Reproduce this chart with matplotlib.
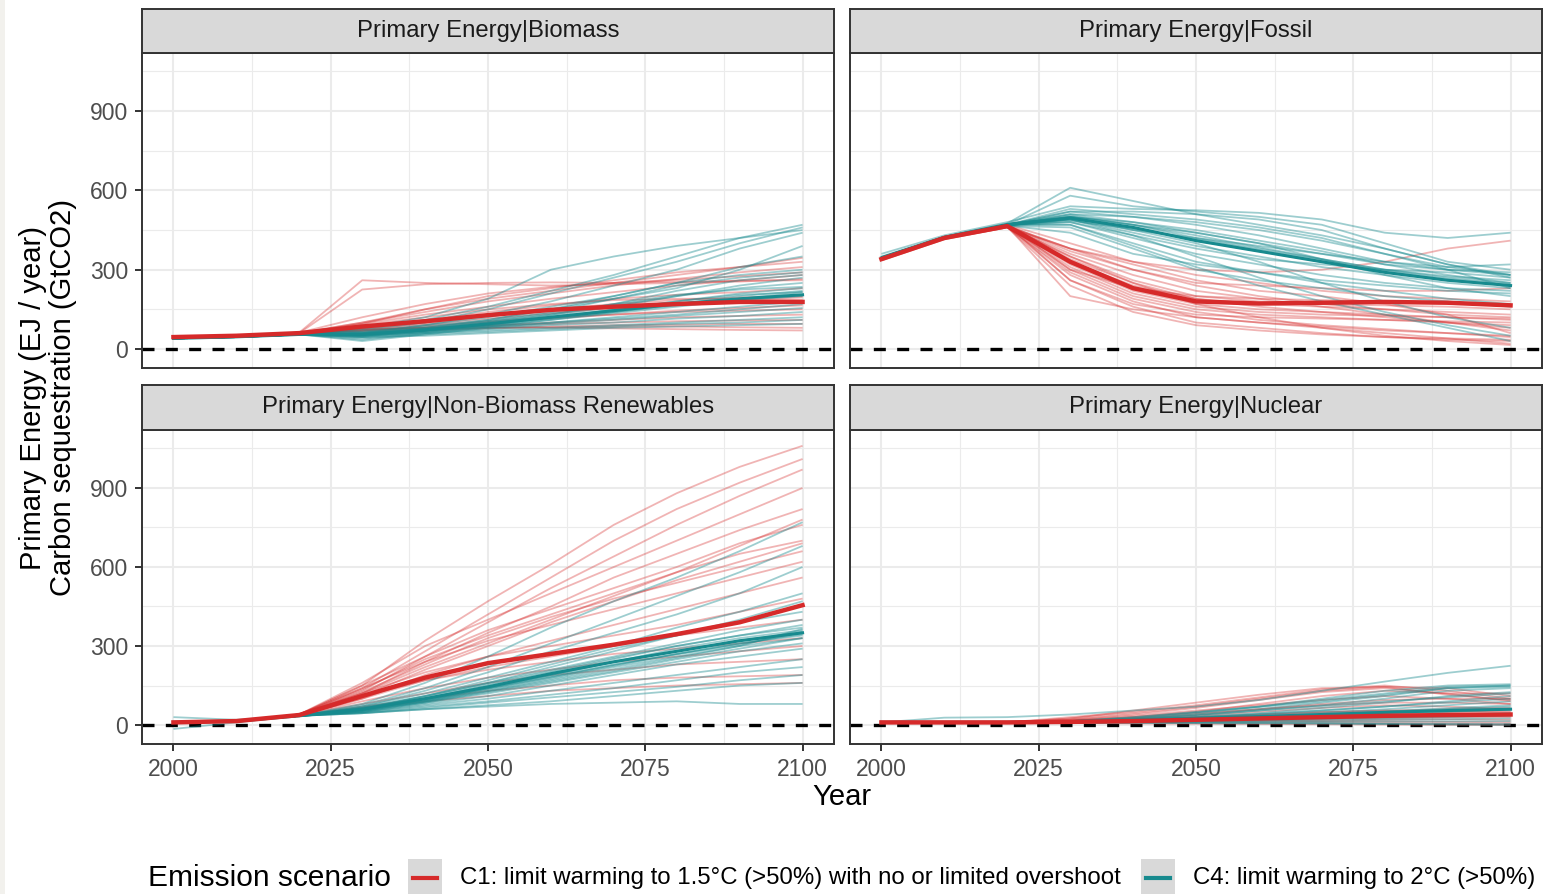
import matplotlib
matplotlib.use("Agg")
import matplotlib.pyplot as plt
from matplotlib.patches import Rectangle
from matplotlib.lines import Line2D
import numpy as np

plt.rcParams["font.family"] = ["Liberation Sans", "DejaVu Sans"]

years = [2000, 2010, 2020, 2030, 2040, 2050, 2060, 2070, 2080, 2090, 2100]

panel_titles = [
    "Primary Energy|Biomass",
    "Primary Energy|Fossil",
    "Primary Energy|Non-Biomass Renewables",
    "Primary Energy|Nuclear",
]

scenario_labels = [
    "C1: limit warming to 1.5°C (>50%) with no or limited overshoot",
    "C4: limit warming to 2°C (>50%)",
]

# ---- Biomass -------------------------------------------------------------
biomass_c1 = [
    [44, 50, 60, 225, 245, 250, 252, 250, 255, 258, 260],
    [44, 50, 62, 260, 250, 245, 240, 245, 250, 255, 265],
    [45, 51, 62, 120, 170, 210, 235, 250, 262, 275, 290],
    [45, 50, 60, 100, 140, 180, 210, 240, 265, 290, 310],
    [44, 50, 60, 95, 130, 160, 190, 215, 240, 260, 280],
    [45, 50, 59, 85, 110, 140, 165, 190, 205, 215, 230],
    [44, 49, 58, 80, 100, 125, 150, 170, 185, 195, 200],
    [45, 50, 60, 85, 105, 130, 150, 165, 175, 178, 180],
    [44, 50, 60, 78, 95, 115, 135, 155, 170, 185, 195],
    [45, 50, 61, 90, 120, 150, 170, 185, 190, 190, 185],
    [44, 49, 58, 70, 85, 100, 115, 130, 145, 155, 165],
    [45, 50, 60, 75, 90, 105, 120, 130, 140, 145, 150],
    [44, 50, 59, 70, 80, 90, 100, 110, 120, 125, 130],
    [45, 50, 60, 72, 80, 88, 95, 100, 105, 108, 110],
    [44, 49, 58, 65, 70, 78, 85, 90, 92, 95, 95],
    [45, 50, 60, 68, 75, 80, 82, 84, 85, 82, 80],
    [44, 50, 60, 75, 80, 82, 80, 78, 75, 72, 70],
    [45, 50, 61, 100, 150, 200, 230, 260, 290, 310, 330],
    [44, 50, 60, 95, 150, 190, 220, 250, 280, 310, 345],
]
biomass_c4 = [
    [40, 46, 56, 70, 100, 150, 210, 270, 330, 400, 460],
    [40, 46, 55, 75, 110, 160, 220, 280, 350, 420, 470],
    [41, 47, 56, 80, 120, 190, 300, 350, 390, 420, 450],
    [40, 45, 55, 60, 90, 130, 180, 240, 300, 380, 440],
    [40, 46, 55, 65, 85, 110, 150, 200, 250, 280, 300],
    [40, 45, 54, 60, 80, 105, 140, 190, 240, 270, 290],
    [40, 46, 56, 60, 75, 100, 130, 170, 220, 260, 280],
    [41, 46, 55, 55, 70, 95, 125, 160, 200, 230, 250],
    [40, 45, 54, 45, 65, 90, 120, 150, 180, 210, 230],
    [40, 46, 55, 50, 70, 90, 115, 140, 165, 190, 215],
    [40, 45, 55, 35, 60, 85, 110, 135, 160, 185, 200],
    [40, 46, 55, 30, 55, 80, 100, 120, 140, 160, 180],
    [40, 45, 56, 55, 70, 85, 100, 115, 130, 150, 170],
    [40, 45, 55, 50, 65, 80, 95, 110, 125, 140, 155],
    [40, 46, 55, 45, 60, 75, 90, 100, 115, 125, 140],
    [41, 45, 54, 50, 60, 70, 80, 90, 100, 110, 120],
    [40, 46, 55, 40, 55, 65, 75, 85, 95, 100, 110],
    [40, 45, 55, 45, 50, 60, 70, 80, 85, 90, 95],
    [40, 46, 56, 65, 90, 120, 160, 200, 250, 310, 350],
    [40, 45, 55, 60, 80, 110, 150, 190, 230, 300, 390],
    [40, 46, 55, 55, 75, 100, 130, 165, 200, 240, 270],
    [40, 45, 56, 50, 65, 85, 110, 140, 170, 200, 220],
    [40, 46, 55, 58, 78, 105, 135, 170, 205, 225, 235],
    [40, 45, 55, 52, 68, 92, 118, 148, 180, 205, 215],
]
biomass_c1_median = [45, 50, 60, 85, 105, 128, 148, 160, 170, 178, 178]
biomass_c4_median = [40, 46, 55, 55, 72, 95, 120, 145, 170, 190, 205]

# ---- Fossil --------------------------------------------------------------
fossil_c1 = [
    [335, 415, 460, 380, 300, 250, 240, 230, 220, 220, 230],
    [340, 420, 470, 400, 330, 280, 250, 220, 200, 190, 180],
    [345, 425, 465, 350, 260, 200, 180, 170, 165, 160, 150],
    [340, 420, 465, 300, 200, 150, 130, 120, 110, 100, 90],
    [338, 418, 462, 280, 180, 120, 100, 85, 70, 60, 50],
    [342, 422, 468, 260, 160, 100, 80, 60, 45, 35, 30],
    [340, 420, 465, 320, 220, 170, 150, 140, 130, 120, 110],
    [345, 425, 470, 340, 250, 190, 160, 140, 120, 100, 80],
    [340, 418, 460, 240, 140, 90, 70, 55, 45, 40, 35],
    [338, 420, 465, 200, 150, 120, 100, 80, 60, 40, 20],
    [342, 422, 466, 360, 280, 220, 190, 160, 130, 100, 70],
    [340, 420, 464, 310, 210, 160, 140, 130, 125, 120, 115],
    [336, 416, 460, 290, 190, 140, 110, 90, 75, 60, 45],
    [344, 424, 468, 370, 300, 240, 200, 170, 150, 130, 120],
    [340, 420, 465, 350, 250, 170, 120, 80, 50, 30, 15],
    [340, 420, 465, 380, 330, 300, 290, 300, 330, 380, 410],
    [342, 421, 467, 300, 230, 200, 190, 185, 180, 175, 170],
    [338, 419, 463, 260, 170, 130, 120, 115, 110, 105, 100],
    [340, 420, 465, 380, 320, 260, 220, 200, 170, 130, 60],
    [341, 421, 466, 330, 240, 190, 170, 160, 150, 140, 130],
]
fossil_c4 = [
    [350, 425, 475, 610, 560, 510, 470, 430, 380, 320, 280],
    [345, 420, 470, 580, 540, 520, 500, 470, 400, 330, 300],
    [360, 430, 480, 540, 530, 525, 515, 490, 440, 420, 440],
    [345, 422, 470, 520, 520, 510, 490, 450, 380, 320, 270],
    [340, 418, 468, 510, 500, 480, 450, 410, 360, 310, 280],
    [345, 424, 472, 500, 480, 450, 410, 370, 320, 280, 250],
    [345, 420, 470, 505, 470, 420, 380, 340, 300, 270, 250],
    [348, 425, 474, 495, 460, 410, 370, 330, 290, 260, 240],
    [342, 420, 468, 490, 440, 390, 350, 310, 280, 250, 230],
    [345, 422, 470, 480, 420, 360, 320, 280, 250, 230, 220],
    [345, 420, 470, 470, 400, 330, 290, 260, 240, 220, 210],
    [340, 418, 466, 460, 380, 300, 260, 230, 200, 180, 160],
    [346, 423, 471, 500, 450, 400, 330, 250, 180, 120, 80],
    [344, 421, 469, 490, 430, 350, 270, 200, 140, 90, 50],
    [345, 422, 470, 470, 390, 310, 240, 180, 130, 80, 30],
    [345, 420, 470, 520, 500, 470, 430, 380, 330, 300, 280],
    [347, 424, 472, 510, 480, 440, 400, 360, 320, 300, 290],
    [343, 420, 468, 480, 430, 380, 340, 320, 300, 290, 270],
    [345, 422, 470, 500, 470, 440, 400, 340, 280, 230, 200],
    [345, 422, 470, 530, 510, 490, 460, 420, 360, 300, 230],
    [341, 419, 467, 440, 360, 320, 290, 250, 220, 190, 170],
    [345, 421, 470, 490, 450, 420, 390, 360, 330, 310, 320],
    [344, 421, 469, 485, 455, 415, 375, 335, 295, 265, 245],
    [346, 423, 471, 500, 470, 430, 385, 340, 300, 275, 260],
]
fossil_c1_median = [340, 420, 465, 330, 230, 180, 172, 175, 178, 175, 165]
fossil_c4_median = [345, 422, 470, 495, 460, 410, 370, 330, 290, 260, 240]

# ---- Non-biomass renewables ---------------------------------------------
renew_c1 = [
    [10, 15, 40, 150, 320, 470, 610, 760, 880, 980, 1060],
    [10, 15, 40, 140, 280, 420, 560, 700, 820, 920, 1010],
    [10, 16, 38, 130, 260, 390, 520, 640, 760, 870, 970],
    [10, 15, 40, 160, 300, 400, 500, 600, 700, 800, 900],
    [10, 15, 38, 120, 240, 350, 450, 560, 650, 740, 820],
    [10, 15, 40, 135, 250, 340, 420, 500, 580, 680, 780],
    [10, 15, 38, 110, 210, 300, 390, 470, 550, 620, 690],
    [10, 16, 40, 140, 240, 320, 380, 440, 500, 560, 620],
    [10, 15, 38, 100, 190, 260, 320, 380, 440, 500, 560],
    [10, 15, 40, 120, 200, 260, 300, 340, 380, 430, 480],
    [10, 15, 38, 100, 170, 220, 260, 300, 340, 370, 400],
    [10, 15, 40, 110, 170, 210, 240, 270, 290, 310, 330],
    [10, 15, 38, 90, 140, 180, 210, 240, 260, 280, 300],
    [10, 15, 38, 80, 120, 160, 190, 210, 230, 240, 250],
    [10, 15, 36, 70, 100, 130, 150, 170, 180, 185, 190],
    [10, 15, 36, 65, 90, 110, 130, 140, 150, 155, 160],
    [10, 15, 40, 120, 220, 310, 400, 490, 580, 650, 700],
    [10, 16, 40, 150, 260, 360, 440, 520, 600, 690, 760],
    [10, 15, 39, 125, 230, 330, 410, 480, 540, 600, 660],
]
renew_c4 = [
    [10, 15, 35, 80, 160, 260, 370, 470, 560, 660, 770],
    [10, 15, 35, 75, 140, 220, 310, 400, 490, 580, 680],
    [10, 15, 35, 70, 130, 200, 280, 350, 420, 500, 600],
    [10, 15, 35, 70, 120, 180, 240, 300, 370, 430, 500],
    [10, 15, 35, 65, 110, 160, 220, 280, 340, 400, 470],
    [10, 15, 35, 65, 110, 160, 210, 260, 310, 360, 400],
    [10, 15, 35, 60, 100, 150, 200, 250, 300, 340, 370],
    [10, 15, 35, 60, 100, 145, 190, 240, 280, 320, 355],
    [10, 15, 35, 58, 95, 140, 185, 230, 270, 310, 345],
    [10, 15, 35, 55, 90, 130, 175, 220, 260, 300, 330],
    [10, 15, 35, 55, 85, 120, 160, 200, 240, 280, 310],
    [10, 15, 35, 50, 80, 110, 150, 190, 230, 260, 290],
    [10, 15, 35, 50, 75, 100, 130, 160, 190, 220, 250],
    [10, 15, 35, 48, 70, 90, 115, 140, 170, 200, 220],
    [10, 15, 35, 45, 65, 85, 105, 125, 145, 170, 190],
    [10, 15, 35, 45, 60, 75, 90, 110, 130, 150, 160],
    [10, 15, 35, 45, 60, 70, 80, 85, 90, 80, 80],
    [-15, 10, 35, 60, 95, 140, 190, 240, 290, 330, 360],
    [30, 20, 35, 65, 105, 155, 205, 255, 300, 340, 380],
    [10, 15, 35, 55, 90, 135, 180, 225, 270, 310, 340],
    [10, 15, 35, 60, 110, 170, 230, 290, 340, 390, 430],
    [10, 15, 35, 50, 85, 125, 165, 205, 250, 290, 330],
    [10, 15, 35, 57, 92, 138, 182, 228, 268, 305, 352],
    [10, 15, 35, 53, 88, 128, 170, 212, 255, 300, 365],
]
renew_c1_median = [10, 15, 38, 110, 180, 235, 270, 305, 345, 390, 455]
renew_c4_median = [10, 15, 35, 60, 100, 145, 195, 240, 280, 320, 350]

# ---- Nuclear -------------------------------------------------------------
nuclear_c1 = [
    [10, 10, 10, 25, 45, 70, 100, 130, 145, 140, 110],
    [10, 10, 10, 30, 50, 75, 105, 135, 150, 130, 100],
    [10, 10, 10, 20, 40, 65, 95, 125, 140, 120, 90],
    [10, 10, 10, 25, 55, 85, 115, 140, 145, 115, 95],
    [10, 10, 10, 15, 30, 50, 80, 110, 130, 120, 120],
    [10, 10, 10, 15, 25, 40, 60, 80, 95, 100, 100],
    [10, 10, 10, 15, 25, 35, 50, 65, 75, 70, 60],
    [10, 10, 10, 12, 20, 30, 40, 50, 55, 50, 50],
    [10, 10, 10, 12, 18, 25, 30, 35, 40, 40, 40],
    [10, 10, 10, 10, 15, 20, 22, 25, 28, 30, 30],
    [10, 10, 10, 10, 12, 15, 18, 20, 22, 22, 20],
    [10, 10, 10, 10, 10, 10, 10, 10, 8, 5, 3],
    [10, 10, 10, 8, 6, 5, 4, 3, 2, 1, 0],
    [10, 10, 10, 12, 15, 15, 15, 15, 15, 12, 10],
    [10, 10, 10, 20, 35, 55, 75, 95, 110, 100, 80],
    [10, 10, 10, 18, 30, 45, 60, 75, 85, 85, 80],
    [10, 10, 10, 10, 15, 22, 30, 38, 45, 50, 55],
    [10, 10, 10, 14, 20, 28, 38, 48, 55, 60, 65],
]
nuclear_c4 = [
    [10, 28, 30, 40, 55, 70, 95, 130, 165, 198, 225],
    [10, 10, 10, 15, 30, 50, 70, 100, 130, 150, 155],
    [10, 10, 10, 15, 25, 45, 70, 95, 120, 145, 150],
    [10, 10, 10, 12, 22, 40, 60, 85, 110, 140, 145],
    [10, 10, 10, 12, 20, 35, 55, 75, 100, 130, 140],
    [10, 10, 10, 12, 20, 30, 45, 65, 85, 110, 125],
    [10, 10, 10, 12, 18, 28, 40, 55, 70, 90, 110],
    [10, 10, 10, 12, 16, 25, 35, 48, 60, 75, 90],
    [10, 10, 10, 11, 15, 22, 30, 40, 50, 60, 70],
    [10, 10, 10, 11, 14, 20, 26, 34, 42, 50, 60],
    [10, 10, 10, 10, 13, 18, 22, 28, 34, 40, 45],
    [10, 10, 10, 10, 12, 15, 18, 22, 26, 30, 35],
    [10, 10, 10, 10, 11, 13, 15, 17, 20, 22, 25],
    [10, 10, 10, 10, 10, 10, 11, 12, 13, 14, 15],
    [10, 10, 10, 9, 8, 7, 6, 6, 5, 5, 5],
    [10, 10, 10, 10, 10, 9, 8, 6, 4, 2, 0],
    [10, 10, 10, 15, 28, 48, 68, 90, 115, 140, 150],
    [10, 10, 10, 14, 24, 38, 55, 72, 90, 105, 120],
    [10, 10, 10, 13, 20, 30, 42, 56, 70, 85, 100],
    [10, 10, 10, 12, 17, 24, 32, 42, 52, 64, 75],
    [10, 10, 10, 11, 15, 20, 25, 30, 35, 40, 42],
    [10, 10, 10, 11, 14, 18, 22, 26, 30, 34, 38],
]
nuclear_c1_median = [10, 10, 10, 12, 15, 20, 25, 30, 35, 38, 40]
nuclear_c4_median = [10, 10, 10, 13, 18, 25, 32, 40, 48, 55, 60]

panel_c1 = [biomass_c1, fossil_c1, renew_c1, nuclear_c1]
panel_c4 = [biomass_c4, fossil_c4, renew_c4, nuclear_c4]
panel_c1_median = [biomass_c1_median, fossil_c1_median, renew_c1_median, nuclear_c1_median]
panel_c4_median = [biomass_c4_median, fossil_c4_median, renew_c4_median, nuclear_c4_median]

x_ticks = [2000, 2025, 2050, 2075, 2100]
y_ticks = [0, 300, 600, 900]

RED = "#D62A2A"
TEAL = "#178A8E"
GRID = "#EBEBEB"
FRAME = "#333333"
TICK_TXT = "#4D4D4D"

W, H = 1545, 894
fig = plt.figure(figsize=(W / 100, H / 100), dpi=100)
fig.patch.set_facecolor("white")

# light margin on the left edge
fig.add_artist(Rectangle((0, 0), 5 / W, 1, transform=fig.transFigure,
                         facecolor="#F2F1ED", edgecolor="none", zorder=0))

col_left = [142, 850]
col_width = 692
row_top = [53, 430]          # pixel top of each plotting panel
row_height = [315, 314]
strip_height = [44, 45]


def px_box(left, top, width, height):
    return [left / W, 1 - (top + height) / H, width / W, height / H]


for i in range(4):
    r, c = divmod(i, 2)
    ax = fig.add_axes(px_box(col_left[c], row_top[r], col_width, row_height[r]))
    ax.set_xlim(1995, 2105)
    ax.set_ylim(-72, 1120)
    ax.set_facecolor("white")

    # grid
    ax.set_xticks(x_ticks)
    ax.set_yticks(y_ticks)
    ax.set_xticks([2012.5, 2037.5, 2062.5, 2087.5], minor=True)
    ax.set_yticks([150, 450, 750, 1050], minor=True)
    ax.grid(which="major", color=GRID, linewidth=1.5, zorder=0)
    ax.grid(which="minor", color=GRID, linewidth=0.8, zorder=0)
    ax.set_axisbelow(True)

    ax.axhline(0, color="black", linewidth=2.4, linestyle=(0, (3.6, 3.4)), zorder=1)

    for row in panel_c1[i]:
        ax.plot(years, row, color=RED, alpha=0.35, linewidth=1.3, zorder=2,
                solid_capstyle="butt")
    ax.plot(years, panel_c4_median[i], color=TEAL, linewidth=2.2, zorder=3)
    for row in panel_c4[i]:
        ax.plot(years, row, color=TEAL, alpha=0.42, linewidth=1.3, zorder=4,
                solid_capstyle="butt")
    ax.plot(years, panel_c1_median[i], color=RED, linewidth=3.2, zorder=5)

    for sp in ax.spines.values():
        sp.set_color(FRAME)
        sp.set_linewidth(1.4)

    ax.tick_params(which="minor", length=0)
    ax.tick_params(which="major", length=5, width=1.4, color=FRAME,
                   labelsize=16.5, labelcolor=TICK_TXT, pad=5)
    if c != 0:
        ax.tick_params(axis="y", which="major", length=0, labelleft=False)
    if r != 1:
        ax.tick_params(axis="x", which="major", length=0, labelbottom=False)

    # facet strip
    sax = fig.add_axes(px_box(col_left[c], row_top[r] - strip_height[r],
                              col_width, strip_height[r]))
    sax.set_facecolor("#D9D9D9")
    sax.set_xticks([])
    sax.set_yticks([])
    for sp in sax.spines.values():
        sp.set_color(FRAME)
        sp.set_linewidth(1.4)
    sax.text(0.5, 0.5, panel_titles[i], ha="center", va="center",
             fontsize=17.2, color="#1A1A1A", transform=sax.transAxes)

# axis titles
fig.text(48 / W, 1 - 398 / H,
         "Primary Energy (EJ / year)\nCarbon sequestration (GtCO2)",
         rotation=90, ha="center", va="center", fontsize=21,
         linespacing=1.05, multialignment="center", color="black")
fig.text(842 / W, 1 - 797 / H, "Year", ha="center", va="center",
         fontsize=21, color="black")

# legend
leg_y = 1 - 878 / H
fig.text(148 / W, leg_y, "Emission scenario", ha="left", va="center",
         fontsize=21.5, color="black")
key_left = [408, 1141]
label_left = [460, 1193]
for k, colr in enumerate([RED, TEAL]):
    fig.add_artist(Rectangle((key_left[k] / W, 0), 34 / W, 35 / H,
                             transform=fig.transFigure,
                             facecolor="#D9D9D9", edgecolor="none"))
    fig.add_artist(Line2D([(key_left[k] + 5) / W, (key_left[k] + 29) / W],
                          [leg_y, leg_y], transform=fig.transFigure,
                          color=colr, linewidth=3.0))
    fig.text(label_left[k] / W, leg_y, scenario_labels[k], ha="left",
             va="center", fontsize=17.3, color="black")

fig.savefig("out.png", dpi=100)
